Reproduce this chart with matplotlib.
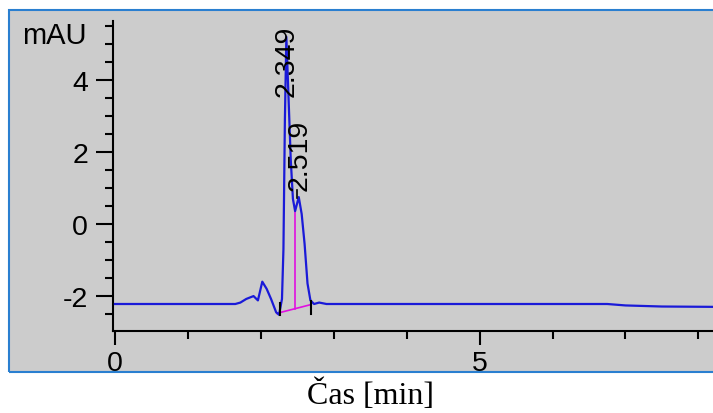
import numpy as np
import matplotlib.pyplot as plt
from matplotlib.patches import Rectangle
from matplotlib.ticker import MultipleLocator

plt.rcParams["axes.unicode_minus"] = False

# chromatogram trace (time in min, signal in mAU)
time = [0.0, 1.65, 1.72, 1.80, 1.90, 1.96, 2.02, 2.08, 2.14, 2.21, 2.25,
        2.29, 2.31, 2.33, 2.35, 2.38, 2.41, 2.44, 2.47, 2.52, 2.56, 2.60,
        2.64, 2.68, 2.73, 2.80, 2.90, 3.50, 6.75, 7.00, 7.50, 8.25]
signal = [-2.22, -2.22, -2.18, -2.08, -2.00, -2.12, -1.60, -1.80, -2.08, -2.45, -2.52,
          -2.08, -0.70, 2.90, 5.20, 3.50, 1.80, 0.70, 0.36, 0.75, 0.28, -0.55,
          -1.65, -2.12, -2.22, -2.18, -2.22, -2.22, -2.22, -2.26, -2.29, -2.30]

peak_times = [2.349, 2.519]
peak_labels = ["2.349", "2.519"]

# integration baseline and peak start/end
base_t = [2.22, 2.68]
base_v = [-2.48, -2.24]
split_t = 2.47
split_v = 0.36
marker_t = [2.26, 2.69]
marker_v = [-2.36, -2.32]

W, H = 713, 414
fig = plt.figure(figsize=(W / 100, H / 100), dpi=100)
fig.patch.set_facecolor("white")

# grey panel behind the axes
panel = Rectangle((9 / W, 1 - 373 / H), 1.0, (373 - 11) / H, transform=fig.transFigure,
                  facecolor="#cccccc", edgecolor="none", zorder=-2)
fig.add_artist(panel)

ax = fig.add_axes([113 / W, 1 - 332 / H, (W - 113) / W, (332 - 22) / H])
ax.set_facecolor("none")
ax.set_xlim(-0.027, 8.20)
ax.set_ylim(-2.97, 5.64)

ax.plot(time, signal, color="#1a1ad8", lw=1.6, zorder=3)

# integration lines
ax.plot(base_t, base_v, color="#e010e0", lw=1.2, zorder=2)
drop_bottom = np.interp(split_t, base_t, base_v)
ax.plot([split_t, split_t], [drop_bottom, split_v], color="#e010e0", lw=1.2, zorder=2)
for t, v in zip(marker_t, marker_v):
    ax.plot([t, t], [v - 0.17, v + 0.17], color="black", lw=1.5, zorder=4)

# peak labels
label_y = [3.55, 0.95]
for t, lab, y in zip(peak_times, peak_labels, label_y):
    ax.text(t + 0.01, y, lab, rotation=90, ha="center", va="bottom", fontsize=20.5,
            family="Liberation Sans", color="black", zorder=5)
ax.plot([2.495, 2.495], [0.72, 0.95], color="black", lw=1.2, zorder=5)

for s in ["top", "right"]:
    ax.spines[s].set_visible(False)
for s in ["left", "bottom"]:
    ax.spines[s].set_linewidth(1.5)

ax.set_yticks([-2, 0, 2, 4])
ax.yaxis.set_minor_locator(MultipleLocator(0.5))
ax.set_xticks([0, 5])
ax.xaxis.set_minor_locator(MultipleLocator(1))
ax.tick_params(axis="y", which="major", length=12, width=1.5, pad=6, labelsize=20.5)
ax.tick_params(axis="y", which="minor", length=6, width=1.5)
ax.tick_params(axis="x", which="major", length=10, width=1.5, pad=3.5, labelsize=20.5)
ax.tick_params(axis="x", which="minor", length=6, width=1.5)
for lbl in ax.get_xticklabels() + ax.get_yticklabels():
    lbl.set_family("Liberation Sans")

fig.text(22 / W, 1 - 36 / H, "mAU", ha="left", va="center", fontsize=21,
         family="Liberation Sans")

# white strip hides the lower part of the x tick labels, like the original
cover = Rectangle((0, 0), 1, 1 - 373 / H, transform=fig.transFigure,
                  facecolor="white", edgecolor="none", zorder=10)
fig.add_artist(cover)
border = Rectangle((9 / W, 1 - 373 / H), 1.0, (373 - 11) / H, transform=fig.transFigure,
                   facecolor="none", edgecolor="#2a7fd0", lw=1.5, zorder=11)
fig.add_artist(border)

fig.text(371 / W, 1 - 395 / H, "Čas [min]", ha="center", va="center", fontsize=23,
         family="Liberation Serif", zorder=12)

fig.savefig("out.png", dpi=100)
